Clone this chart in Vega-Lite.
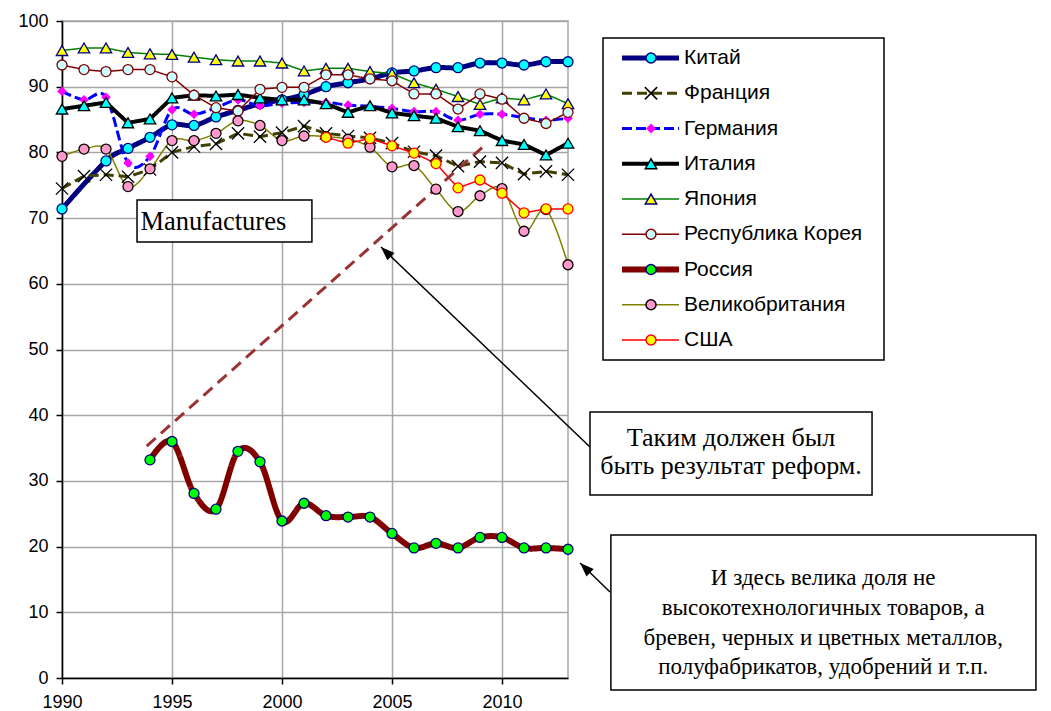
{
  "$schema": "https://vega.github.io/schema/vega-lite/v6.json",
  "width": 506,
  "height": 657,
  "autosize": {"type": "none"},
  "padding": {"left": 62, "top": 21, "right": 483, "bottom": 33},
  "background": "white",
  "config": {
    "view": {"stroke": "#a6a6a6", "strokeWidth": 1.5},
    "axis": {
      "labelFont": "Liberation Sans", "labelFontSize": 18, "labelColor": "black",
      "domainColor": "black", "domainWidth": 1.5, "tickColor": "black", "tickWidth": 1.5,
      "tickSize": 6, "gridColor": "#a6a6a6", "gridWidth": 1.5, "labelFlush": false,
      "labelOverlap": false, "labelBound": false
    }
  },
  "datasets": {
    "series": [
      {"c": "Китай", "year": 1990, "v": 71.4}, {"c": "Китай", "year": 1992, "v": 78.7}, {"c": "Китай", "year": 1993, "v": 80.6}, {"c": "Китай", "year": 1994, "v": 82.3}, {"c": "Китай", "year": 1995, "v": 84.2}, {"c": "Китай", "year": 1996, "v": 84.1}, {"c": "Китай", "year": 1997, "v": 85.4}, {"c": "Китай", "year": 1998, "v": 86.4}, {"c": "Китай", "year": 1999, "v": 87.4}, {"c": "Китай", "year": 2000, "v": 88.0}, {"c": "Китай", "year": 2001, "v": 88.8}, {"c": "Китай", "year": 2002, "v": 90.0}, {"c": "Китай", "year": 2003, "v": 90.6}, {"c": "Китай", "year": 2004, "v": 91.2}, {"c": "Китай", "year": 2005, "v": 92.1}, {"c": "Китай", "year": 2006, "v": 92.4}, {"c": "Китай", "year": 2007, "v": 92.9}, {"c": "Китай", "year": 2008, "v": 92.9}, {"c": "Китай", "year": 2009, "v": 93.6}, {"c": "Китай", "year": 2010, "v": 93.6}, {"c": "Китай", "year": 2011, "v": 93.3}, {"c": "Китай", "year": 2012, "v": 93.8}, {"c": "Китай", "year": 2013, "v": 93.8},
      {"c": "Франция", "year": 1990, "v": 74.5}, {"c": "Франция", "year": 1991, "v": 76.4}, {"c": "Франция", "year": 1992, "v": 76.6}, {"c": "Франция", "year": 1993, "v": 76.3}, {"c": "Франция", "year": 1994, "v": 77.4}, {"c": "Франция", "year": 1995, "v": 80.0}, {"c": "Франция", "year": 1996, "v": 80.9}, {"c": "Франция", "year": 1997, "v": 81.3}, {"c": "Франция", "year": 1998, "v": 82.9}, {"c": "Франция", "year": 1999, "v": 82.4}, {"c": "Франция", "year": 2000, "v": 83.0}, {"c": "Франция", "year": 2001, "v": 84.0}, {"c": "Франция", "year": 2002, "v": 82.9}, {"c": "Франция", "year": 2003, "v": 82.5}, {"c": "Франция", "year": 2004, "v": 82.2}, {"c": "Франция", "year": 2005, "v": 81.4}, {"c": "Франция", "year": 2006, "v": 80.1}, {"c": "Франция", "year": 2007, "v": 79.5}, {"c": "Франция", "year": 2008, "v": 77.9}, {"c": "Франция", "year": 2009, "v": 78.6}, {"c": "Франция", "year": 2010, "v": 78.4}, {"c": "Франция", "year": 2011, "v": 76.7}, {"c": "Франция", "year": 2012, "v": 77.1}, {"c": "Франция", "year": 2013, "v": 76.6},
      {"c": "Германия", "year": 1990, "v": 89.3}, {"c": "Германия", "year": 1991, "v": 88.0}, {"c": "Германия", "year": 1992, "v": 88.4}, {"c": "Германия", "year": 1993, "v": 78.4}, {"c": "Германия", "year": 1994, "v": 79.4}, {"c": "Германия", "year": 1995, "v": 86.5}, {"c": "Германия", "year": 1996, "v": 85.8}, {"c": "Германия", "year": 1997, "v": 86.8}, {"c": "Германия", "year": 1998, "v": 88.0}, {"c": "Германия", "year": 1999, "v": 87.1}, {"c": "Германия", "year": 2000, "v": 87.5}, {"c": "Германия", "year": 2001, "v": 87.6}, {"c": "Германия", "year": 2002, "v": 87.6}, {"c": "Германия", "year": 2003, "v": 87.2}, {"c": "Германия", "year": 2004, "v": 87.0}, {"c": "Германия", "year": 2005, "v": 86.7}, {"c": "Германия", "year": 2006, "v": 86.2}, {"c": "Германия", "year": 2007, "v": 86.2}, {"c": "Германия", "year": 2008, "v": 84.9}, {"c": "Германия", "year": 2009, "v": 85.8}, {"c": "Германия", "year": 2010, "v": 85.8}, {"c": "Германия", "year": 2011, "v": 85.3}, {"c": "Германия", "year": 2012, "v": 84.9}, {"c": "Германия", "year": 2013, "v": 85.2},
      {"c": "Италия", "year": 1990, "v": 86.6}, {"c": "Италия", "year": 1991, "v": 87.1}, {"c": "Италия", "year": 1992, "v": 87.6}, {"c": "Италия", "year": 1993, "v": 84.5}, {"c": "Италия", "year": 1994, "v": 85.1}, {"c": "Италия", "year": 1995, "v": 88.3}, {"c": "Италия", "year": 1996, "v": 88.7}, {"c": "Италия", "year": 1997, "v": 88.6}, {"c": "Италия", "year": 1998, "v": 88.8}, {"c": "Италия", "year": 1999, "v": 88.3}, {"c": "Италия", "year": 2000, "v": 88.0}, {"c": "Италия", "year": 2001, "v": 88.0}, {"c": "Италия", "year": 2002, "v": 87.4}, {"c": "Италия", "year": 2003, "v": 86.1}, {"c": "Италия", "year": 2004, "v": 87.1}, {"c": "Италия", "year": 2005, "v": 86.0}, {"c": "Италия", "year": 2006, "v": 85.6}, {"c": "Италия", "year": 2007, "v": 85.2}, {"c": "Италия", "year": 2008, "v": 83.9}, {"c": "Италия", "year": 2009, "v": 83.3}, {"c": "Италия", "year": 2010, "v": 81.8}, {"c": "Италия", "year": 2011, "v": 81.2}, {"c": "Италия", "year": 2012, "v": 79.6}, {"c": "Италия", "year": 2013, "v": 81.4},
      {"c": "Япония", "year": 1990, "v": 95.5}, {"c": "Япония", "year": 1991, "v": 95.9}, {"c": "Япония", "year": 1992, "v": 95.9}, {"c": "Япония", "year": 1993, "v": 95.2}, {"c": "Япония", "year": 1994, "v": 95.0}, {"c": "Япония", "year": 1995, "v": 94.9}, {"c": "Япония", "year": 1996, "v": 94.5}, {"c": "Япония", "year": 1997, "v": 94.1}, {"c": "Япония", "year": 1998, "v": 93.9}, {"c": "Япония", "year": 1999, "v": 93.9}, {"c": "Япония", "year": 2000, "v": 93.6}, {"c": "Япония", "year": 2001, "v": 92.4}, {"c": "Япония", "year": 2002, "v": 92.8}, {"c": "Япония", "year": 2003, "v": 92.8}, {"c": "Япония", "year": 2004, "v": 92.3}, {"c": "Япония", "year": 2005, "v": 92.0}, {"c": "Япония", "year": 2006, "v": 90.6}, {"c": "Япония", "year": 2007, "v": 89.6}, {"c": "Япония", "year": 2008, "v": 88.5}, {"c": "Япония", "year": 2009, "v": 87.3}, {"c": "Япония", "year": 2010, "v": 88.3}, {"c": "Япония", "year": 2011, "v": 88.0}, {"c": "Япония", "year": 2012, "v": 88.9}, {"c": "Япония", "year": 2013, "v": 87.4},
      {"c": "Республика Корея", "year": 1990, "v": 93.3}, {"c": "Республика Корея", "year": 1991, "v": 92.6}, {"c": "Республика Корея", "year": 1992, "v": 92.3}, {"c": "Республика Корея", "year": 1993, "v": 92.6}, {"c": "Республика Корея", "year": 1994, "v": 92.6}, {"c": "Республика Корея", "year": 1995, "v": 91.5}, {"c": "Республика Корея", "year": 1996, "v": 88.7}, {"c": "Республика Корея", "year": 1997, "v": 86.8}, {"c": "Республика Корея", "year": 1998, "v": 86.3}, {"c": "Республика Корея", "year": 1999, "v": 89.6}, {"c": "Республика Корея", "year": 2000, "v": 89.9}, {"c": "Республика Корея", "year": 2001, "v": 89.9}, {"c": "Республика Корея", "year": 2002, "v": 91.8}, {"c": "Республика Корея", "year": 2003, "v": 91.8}, {"c": "Республика Корея", "year": 2004, "v": 91.2}, {"c": "Республика Корея", "year": 2005, "v": 90.9}, {"c": "Республика Корея", "year": 2006, "v": 88.9}, {"c": "Республика Корея", "year": 2007, "v": 88.9}, {"c": "Республика Корея", "year": 2008, "v": 86.6}, {"c": "Республика Корея", "year": 2009, "v": 88.9}, {"c": "Республика Корея", "year": 2010, "v": 88.1}, {"c": "Республика Корея", "year": 2011, "v": 85.2}, {"c": "Республика Корея", "year": 2012, "v": 84.4}, {"c": "Республика Корея", "year": 2013, "v": 86.1},
      {"c": "Россия", "year": 1994, "v": 33.2}, {"c": "Россия", "year": 1995, "v": 36.0}, {"c": "Россия", "year": 1996, "v": 28.1}, {"c": "Россия", "year": 1997, "v": 25.7}, {"c": "Россия", "year": 1998, "v": 34.5}, {"c": "Россия", "year": 1999, "v": 32.9}, {"c": "Россия", "year": 2000, "v": 23.9}, {"c": "Россия", "year": 2001, "v": 26.6}, {"c": "Россия", "year": 2002, "v": 24.7}, {"c": "Россия", "year": 2003, "v": 24.5}, {"c": "Россия", "year": 2004, "v": 24.5}, {"c": "Россия", "year": 2005, "v": 22.0}, {"c": "Россия", "year": 2006, "v": 19.8}, {"c": "Россия", "year": 2007, "v": 20.5}, {"c": "Россия", "year": 2008, "v": 19.8}, {"c": "Россия", "year": 2009, "v": 21.4}, {"c": "Россия", "year": 2010, "v": 21.4}, {"c": "Россия", "year": 2011, "v": 19.8}, {"c": "Россия", "year": 2012, "v": 19.8}, {"c": "Россия", "year": 2013, "v": 19.6},
      {"c": "Великобритания", "year": 1990, "v": 79.4}, {"c": "Великобритания", "year": 1991, "v": 80.5}, {"c": "Великобритания", "year": 1992, "v": 80.5}, {"c": "Великобритания", "year": 1993, "v": 74.8}, {"c": "Великобритания", "year": 1994, "v": 77.5}, {"c": "Великобритания", "year": 1995, "v": 81.8}, {"c": "Великобритания", "year": 1996, "v": 81.8}, {"c": "Великобритания", "year": 1997, "v": 82.9}, {"c": "Великобритания", "year": 1998, "v": 84.8}, {"c": "Великобритания", "year": 1999, "v": 84.1}, {"c": "Великобритания", "year": 2000, "v": 81.8}, {"c": "Великобритания", "year": 2001, "v": 82.5}, {"c": "Великобритания", "year": 2002, "v": 82.4}, {"c": "Великобритания", "year": 2003, "v": 82.0}, {"c": "Великобритания", "year": 2004, "v": 80.8}, {"c": "Великобритания", "year": 2005, "v": 77.8}, {"c": "Великобритания", "year": 2006, "v": 78.0}, {"c": "Великобритания", "year": 2007, "v": 74.4}, {"c": "Великобритания", "year": 2008, "v": 71.0}, {"c": "Великобритания", "year": 2009, "v": 73.4}, {"c": "Великобритания", "year": 2010, "v": 74.5}, {"c": "Великобритания", "year": 2011, "v": 68.0}, {"c": "Великобритания", "year": 2012, "v": 71.3}, {"c": "Великобритания", "year": 2013, "v": 62.9},
      {"c": "США", "year": 2002, "v": 82.3}, {"c": "США", "year": 2003, "v": 81.4}, {"c": "США", "year": 2004, "v": 82.1}, {"c": "США", "year": 2005, "v": 81.0}, {"c": "США", "year": 2006, "v": 79.9}, {"c": "США", "year": 2007, "v": 78.3}, {"c": "США", "year": 2008, "v": 74.6}, {"c": "США", "year": 2009, "v": 75.8}, {"c": "США", "year": 2010, "v": 73.8}, {"c": "США", "year": 2011, "v": 70.8}, {"c": "США", "year": 2012, "v": 71.4}, {"c": "США", "year": 2013, "v": 71.4}
    ],
    "trend": [{"year": 1993.85, "v": 35.3}, {"year": 2009.25, "v": 81.2}],
    "boxes": [
      {"year": 1993.41, "year2": 2001.36, "v": 72.75, "v2": 66.36},
      {"year": 2014.0, "year2": 2026.82, "v": 40.49, "v2": 27.85},
      {"year": 2014.95, "year2": 2034.27, "v": 21.77, "v2": -1.83}
    ],
    "label": [{"t": "Manufactures", "year": 1993.57, "v": 69.4}],
    "notes1": [
      {"t": "Таким должен был", "year": 2020.41, "v": 36.6},
      {"t": "быть результат реформ.", "year": 2020.41, "v": 32.3}
    ],
    "notes2": [
      {"t": "И здесь велика доля не", "year": 2024.6, "v": 15.2},
      {"t": "высокотехнологичных товаров, а", "year": 2024.6, "v": 10.6},
      {"t": "бревен, черных и цветных металлов,", "year": 2024.6, "v": 6.1},
      {"t": "полуфабрикатов, удобрений и т.п.", "year": 2024.6, "v": 1.6}
    ],
    "arrows": [
      {"year": 2014.0, "v": 35.16, "year2": 2004.5, "v2": 65.6},
      {"year": 2014.91, "v": 13.09, "year2": 2013.55, "v2": 17.5}
    ]
  },
  "layer": [
    {
      "data": {"name": "series"},
      "transform": [{"filter": {"field": "c", "oneOf": ["Китай", "Германия", "Россия", "Великобритания"]}}],
      "mark": {"type": "line", "interpolate": "cardinal"},
      "encoding": {
        "x": {"field": "year", "type": "quantitative", "scale": {"domain": [1990, 2013], "nice": false, "zero": false},
              "axis": {"title": null, "values": [1990, 1995, 2000, 2005, 2010], "format": "d", "grid": true, "labelPadding": 9}},
        "y": {"field": "v", "type": "quantitative", "scale": {"domain": [0, 100], "nice": false},
              "axis": {"title": null, "values": [0, 5, 10, 15, 20, 25, 30, 35, 40, 45, 50, 55, 60, 65, 70, 75, 80, 85, 90, 95, 100], "grid": true, "labelPadding": 8,
                       "labelExpr": "datum.value % 10 === 0 ? datum.label : ''",
                       "tickOpacity": {"condition": {"test": "datum.value % 10 !== 0", "value": 0}, "value": 1}}},
        "color": {"field": "c", "type": "nominal",
                  "scale": {"domain": ["Китай", "Франция", "Германия", "Италия", "Япония", "Республика Корея", "Россия", "Великобритания", "США"],
                            "range": ["#000080", "#404000", "#0000FF", "#000000", "#008000", "#800000", "#800000", "#808000", "#FF0000"]},
                  "legend": {"title": " ", "titleOrient": "right", "titleFontSize": 1, "titlePadding": 13,
                             "orient": "none", "legendX": 541, "legendY": 17, "symbolType": "stroke", "symbolSize": 3249,
                             "padding": 9, "symbolOffset": 7, "clipHeight": 22, "rowPadding": 13.25, "labelOffset": 2,
                             "labelFont": "Liberation Sans", "labelFontSize": 21, "labelColor": "black", "labelLimit": 400,
                             "fillColor": "white", "strokeColor": "black", "zindex": 1,
                             "encode": {"legend": {"update": {"strokeWidth": {"value": 1.5}}},
                                        "symbols": {"update": {"strokeWidth": {"signal": "scale('strokeWidth', datum.value)"}}}}}},
        "strokeDash": {"field": "c", "type": "nominal",
                       "scale": {"domain": ["Китай", "Франция", "Германия", "Италия", "Япония", "Республика Корея", "Россия", "Великобритания", "США"],
                                 "range": [[1, 0], [10, 5], [10, 4], [1, 0], [1, 0], [1, 0], [1, 0], [1, 0], [1, 0]]}},
        "strokeWidth": {"field": "c", "type": "nominal",
                        "scale": {"type": "ordinal", "domain": ["Китай", "Франция", "Германия", "Италия", "Япония", "Республика Корея", "Россия", "Великобритания", "США"],
                                  "range": [5, 3, 3, 4, 1.5, 1.5, 6, 1.5, 1.5]}}
      }
    },
    {
      "data": {"name": "series"},
      "transform": [{"filter": {"field": "c", "oneOf": ["Франция", "Италия", "Япония", "Республика Корея", "США"]}}],
      "mark": {"type": "line", "interpolate": "linear"},
      "encoding": {
        "x": {"field": "year", "type": "quantitative", "scale": {"domain": [1990, 2013], "nice": false, "zero": false}},
        "y": {"field": "v", "type": "quantitative", "scale": {"domain": [0, 100], "nice": false}},
        "color": {"field": "c", "type": "nominal",
                  "scale": {"domain": ["Китай", "Франция", "Германия", "Италия", "Япония", "Республика Корея", "Россия", "Великобритания", "США"],
                            "range": ["#000080", "#404000", "#0000FF", "#000000", "#008000", "#800000", "#800000", "#808000", "#FF0000"]}},
        "strokeDash": {"field": "c", "type": "nominal",
                       "scale": {"domain": ["Китай", "Франция", "Германия", "Италия", "Япония", "Республика Корея", "Россия", "Великобритания", "США"],
                                 "range": [[1, 0], [10, 5], [10, 4], [1, 0], [1, 0], [1, 0], [1, 0], [1, 0], [1, 0]]}},
        "strokeWidth": {"field": "c", "type": "nominal",
                        "scale": {"type": "ordinal", "domain": ["Китай", "Франция", "Германия", "Италия", "Япония", "Республика Корея", "Россия", "Великобритания", "США"],
                                  "range": [5, 3, 3, 4, 1.5, 1.5, 6, 1.5, 1.5]}}
      }
    },
    {
      "data": {"name": "trend"},
      "mark": {"type": "line", "color": "#993333", "strokeWidth": 3, "strokeDash": [12, 7]},
      "encoding": {
        "x": {"field": "year", "type": "quantitative"},
        "y": {"field": "v", "type": "quantitative"}
      }
    },
    {
      "data": {"name": "series"},
      "mark": {"type": "point", "filled": true, "strokeWidth": 1.3, "opacity": 1},
      "encoding": {
        "x": {"field": "year", "type": "quantitative"},
        "y": {"field": "v", "type": "quantitative"},
        "fill": {"field": "c", "type": "nominal",
                 "scale": {"domain": ["США", "Великобритания", "Россия", "Республика Корея", "Япония", "Италия", "Германия", "Франция", "Китай"],
                           "range": ["#FFFF00", "#FF99CC", "#00FF00", "#CCFFFF", "#FFFF00", "#00FFFF", "#FF00FF", "transparent", "#00FFFF"]},
                 "legend": {"title": null, "orient": "none", "legendX": 573, "legendY": 17,
                            "values": ["Китай", "Франция", "Германия", "Италия", "Япония", "Республика Корея", "Россия", "Великобритания", "США"],
                            "padding": 9, "symbolOffset": 0, "clipHeight": 22, "rowPadding": 13.25,
                            "labelExpr": "''", "labelOpacity": 0, "labelFontSize": 1, "zindex": 2}},
        "stroke": {"field": "c", "type": "nominal",
                   "scale": {"domain": ["США", "Великобритания", "Россия", "Республика Корея", "Япония", "Италия", "Германия", "Франция", "Китай"],
                             "range": ["#FF0000", "#000000", "#000080", "#800000", "#000080", "#000000", "#FF00FF", "#000000", "#000080"]}},
        "shape": {"field": "c", "type": "nominal",
                  "scale": {"domain": ["США", "Великобритания", "Россия", "Республика Корея", "Япония", "Италия", "Германия", "Франция", "Китай"],
                            "range": ["circle", "circle", "circle", "circle", "triangle-up", "triangle-up", "diamond", "M-1,-1L1,1M-1,1L1,-1", "circle"]}},
        "size": {"field": "c", "type": "nominal",
                 "scale": {"type": "ordinal", "domain": ["США", "Великобритания", "Россия", "Республика Корея", "Япония", "Италия", "Германия", "Франция", "Китай"],
                           "range": [100, 100, 100, 100, 130, 130, 60, 150, 100]}}
      }
    },
    {
      "data": {"name": "boxes"},
      "mark": {"type": "rect", "fill": "white", "stroke": "black", "strokeWidth": 1.5},
      "encoding": {
        "x": {"field": "year", "type": "quantitative"},
        "x2": {"field": "year2"},
        "y": {"field": "v", "type": "quantitative"},
        "y2": {"field": "v2"}
      }
    },
    {
      "data": {"name": "label"},
      "mark": {"type": "text", "align": "left", "baseline": "middle", "font": "Liberation Serif", "fontSize": 26.5, "color": "black"},
      "encoding": {
        "x": {"field": "year", "type": "quantitative"},
        "y": {"field": "v", "type": "quantitative"},
        "text": {"field": "t"}
      }
    },
    {
      "data": {"name": "notes1"},
      "mark": {"type": "text", "align": "center", "baseline": "middle", "font": "Liberation Serif", "fontSize": 26, "color": "black"},
      "encoding": {
        "x": {"field": "year", "type": "quantitative"},
        "y": {"field": "v", "type": "quantitative"},
        "text": {"field": "t"}
      }
    },
    {
      "data": {"name": "notes2"},
      "mark": {"type": "text", "align": "center", "baseline": "middle", "font": "Liberation Serif", "fontSize": 23, "color": "black"},
      "encoding": {
        "x": {"field": "year", "type": "quantitative"},
        "y": {"field": "v", "type": "quantitative"},
        "text": {"field": "t"}
      }
    },
    {
      "data": {"name": "arrows"},
      "mark": {"type": "rule", "color": "black", "strokeWidth": 1.5},
      "encoding": {
        "x": {"field": "year", "type": "quantitative"},
        "y": {"field": "v", "type": "quantitative"},
        "x2": {"field": "year2"},
        "y2": {"field": "v2"}
      }
    },
    {
      "data": {"name": "arrows"},
      "mark": {"type": "point", "shape": "M0,0L-0.6,1.6L0.6,1.6Z", "filled": true, "color": "black", "size": 300, "angle": 314, "opacity": 1},
      "encoding": {
        "x": {"field": "year2", "type": "quantitative"},
        "y": {"field": "v2", "type": "quantitative"}
      }
    }
  ]
}
